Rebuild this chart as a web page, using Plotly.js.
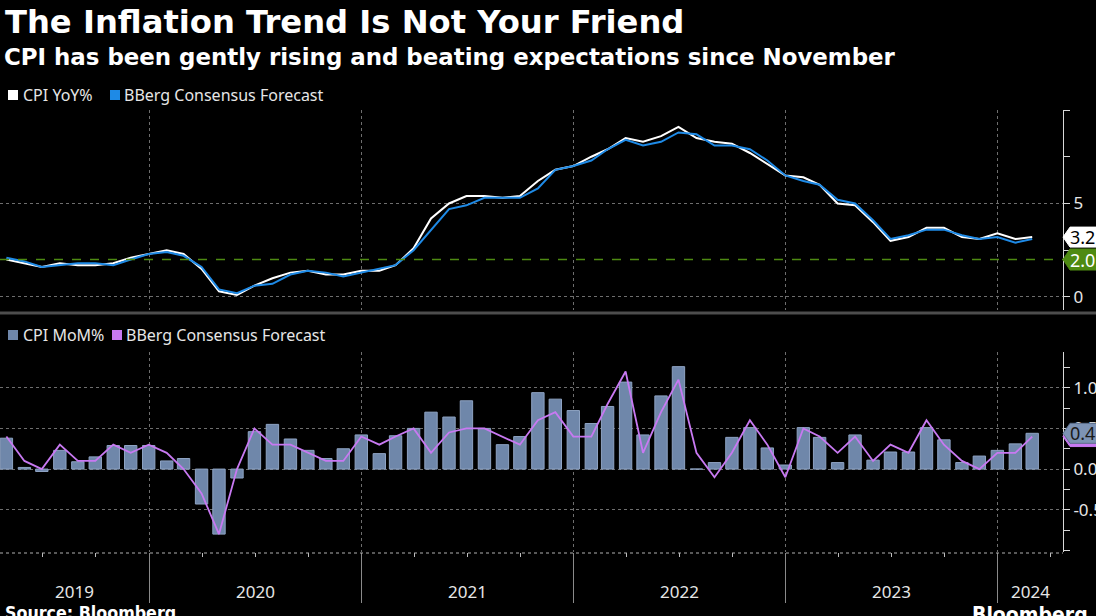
<!DOCTYPE html>
<html><head><meta charset="utf-8">
<script src="https://cdn.plot.ly/plotly-3.0.1.min.js"></script>
<style>html,body{margin:0;padding:0;background:#000;}#chart{width:1096px;height:616px;}</style>
</head><body><div id="chart"></div>
<script>
// ---------- DATA ----------
const months = [
 '2019-04-30','2019-05-31','2019-06-30','2019-07-31','2019-08-31','2019-09-30','2019-10-31','2019-11-30','2019-12-31',
 '2020-01-31','2020-02-29','2020-03-31','2020-04-30','2020-05-31','2020-06-30','2020-07-31','2020-08-31','2020-09-30','2020-10-31','2020-11-30','2020-12-31',
 '2021-01-31','2021-02-28','2021-03-31','2021-04-30','2021-05-31','2021-06-30','2021-07-31','2021-08-31','2021-09-30','2021-10-31','2021-11-30','2021-12-31',
 '2022-01-31','2022-02-28','2022-03-31','2022-04-30','2022-05-31','2022-06-30','2022-07-31','2022-08-31','2022-09-30','2022-10-31','2022-11-30','2022-12-31',
 '2023-01-31','2023-02-28','2023-03-31','2023-04-30','2023-05-31','2023-06-30','2023-07-31','2023-08-31','2023-09-30','2023-10-31','2023-11-30','2023-12-31',
 '2024-01-31','2024-02-29'
];
const cpiYoY = [
 2.0,1.8,1.6,1.8,1.7,1.7,1.8,2.1,2.3,
 2.5,2.3,1.5,0.3,0.1,0.6,1.0,1.3,1.4,1.2,1.2,1.4,
 1.4,1.7,2.6,4.2,5.0,5.4,5.4,5.3,5.4,6.2,6.8,7.0,
 7.5,7.9,8.5,8.3,8.6,9.1,8.5,8.3,8.2,7.7,7.1,6.5,
 6.4,6.0,5.0,4.9,4.0,3.0,3.2,3.7,3.7,3.2,3.1,3.4,
 3.1,3.2
];
const consensusYoY = [
 2.1,1.9,1.6,1.7,1.8,1.8,1.7,2.0,2.3,
 2.4,2.2,1.6,0.4,0.2,0.6,0.7,1.2,1.4,1.3,1.1,1.3,
 1.5,1.7,2.5,3.6,4.7,4.9,5.3,5.3,5.3,5.8,6.8,7.0,
 7.3,7.9,8.4,8.1,8.3,8.8,8.7,8.1,8.1,7.9,7.3,6.5,
 6.2,6.0,5.2,5.0,4.1,3.1,3.3,3.6,3.6,3.3,3.1,3.2,
 2.9,3.1
];
const cpiMoM = [
 0.38,0.02,-0.03,0.23,0.09,0.15,0.29,0.29,0.29,
 0.10,0.13,-0.43,-0.80,-0.11,0.46,0.55,0.37,0.23,0.13,0.25,0.42,
 0.19,0.41,0.50,0.70,0.64,0.84,0.50,0.30,0.40,0.94,0.86,0.72,
 0.56,0.77,1.07,0.42,0.90,1.26,0.00,0.08,0.39,0.51,0.26,0.05,
 0.51,0.39,0.08,0.42,0.11,0.21,0.21,0.51,0.36,0.08,0.16,0.23,
 0.31,0.44
];
const consensusMoM = [
 0.4,0.1,0.0,0.3,0.1,0.1,0.3,0.2,0.3,
 0.2,0.0,-0.3,-0.8,0.0,0.5,0.3,0.3,0.2,0.1,0.1,0.4,
 0.3,0.4,0.5,0.2,0.45,0.5,0.5,0.4,0.3,0.6,0.7,0.4,
 0.4,0.8,1.2,0.2,0.7,1.1,0.2,-0.1,0.2,0.6,0.3,-0.1,
 0.5,0.4,0.2,0.4,0.1,0.3,0.2,0.6,0.3,0.1,0.0,0.2,
 0.2,0.4
];
const inflationTarget = 2.0;
const yearStarts = ['2019-01-01','2020-01-01','2021-01-01','2022-01-01','2023-01-01','2024-01-01','2025-01-01'];
const yearLabels = ['2019','2020','2021','2022','2023','2024'];
const yoyTickVals = [0,5];
const yoyTickText = ['0','5'];
const momTickVals = [-0.5,0,0.5,1.0];
const momTickText = ['-0.5','0.0','0.5','1.0'];

// ---------- LAYOUT HELPERS ----------
const W = 1096, H = 616;
const px = x => x / W;
const py = y => 1 - y / H;
const AXIS_X = 1063;
const xRange = ['2019-04-19','2024-04-22'];
const topPx = [110, 310], botPx = [352, 552];
const yoyRange = [-0.7, 10];
const momRange = [-1.02, 1.44];
const yoyPerPx = (yoyRange[1]-yoyRange[0])/(topPx[1]-topPx[0]);
const momPerPx = (momRange[1]-momRange[0])/(botPx[1]-botPx[0]);

const WHITE='#ffffff', BLUE='#1e8ae6', PURPLE='#c879f2', BAR='#6f87aa', BARLINE='#8ea3c3', GREEN='#4e8a12', GRID='#6e6e6e';
const FONT='Noto Sans, Open Sans, sans-serif';
const BOLD='DejaVu Sans, sans-serif';
const BOLDC='DejaVu Sans Condensed, DejaVu Sans, sans-serif';

const traces = [
  {type:'bar', x:months, y:cpiMoM, xaxis:'x', yaxis:'y2', width:21.3*86400000,
   marker:{color:BAR, line:{color:BARLINE, width:1}}, hoverinfo:'skip'},
  {type:'scatter', mode:'lines', x:months, y:consensusMoM, xaxis:'x', yaxis:'y2',
   line:{color:PURPLE, width:1.8}, hoverinfo:'skip'},
  {type:'scatter', mode:'lines', x:months, y:cpiYoY, xaxis:'x', yaxis:'y',
   line:{color:WHITE, width:2}, hoverinfo:'skip'},
  {type:'scatter', mode:'lines', x:months, y:consensusYoY, xaxis:'x', yaxis:'y',
   line:{color:BLUE, width:2}, hoverinfo:'skip'}
];

// year label positions: centre of visible part of each year
const r0 = Date.parse(xRange[0]), r1 = Date.parse(xRange[1]);
const annotations = [];
yearLabels.forEach((lab, i) => {
  const a = Math.max(Date.parse(yearStarts[i]), r0);
  const b = Math.min(Date.parse(yearStarts[i+1]), r1);
  const mid = new Date((a+b)/2).toISOString().slice(0,10);
  annotations.push({xref:'x', yref:'paper', x:mid, y:py(591), xanchor:'center', yanchor:'middle',
    text:lab, showarrow:false, font:{family:FONT, size:17, color:'#e6e6e6'}});
});

const shapes = [
  // 2% target dashed line
  {type:'line', xref:'paper', yref:'y', x0:0, x1:px(AXIS_X), y0:inflationTarget, y1:inflationTarget,
   line:{color:GREEN, width:1.5, dash:'dash'}},
  // panel separator
  {type:'rect', xref:'paper', yref:'paper', x0:0, x1:1, y0:py(314.5), y1:py(311.5), fillcolor:'#4d4d4d', line:{width:0}},
  // dotted x-axis baseline
  {type:'line', xref:'paper', yref:'paper', x0:0, x1:px(AXIS_X), y0:py(553), y1:py(553), line:{color:'#b0b0b0', width:1, dash:'dot'}},
  // legend squares
  {type:'rect', xref:'paper', yref:'paper', x0:px(8), x1:px(18), y0:py(100), y1:py(90), fillcolor:WHITE, line:{width:0}},
  {type:'rect', xref:'paper', yref:'paper', x0:px(110), x1:px(120), y0:py(100), y1:py(90), fillcolor:BLUE, line:{width:0}},
  {type:'rect', xref:'paper', yref:'paper', x0:px(8), x1:px(18), y0:py(340), y1:py(330), fillcolor:BAR, line:{width:0}},
  {type:'rect', xref:'paper', yref:'paper', x0:px(112), x1:px(122), y0:py(340), y1:py(330), fillcolor:PURPLE, line:{width:0}}
];

function tag(yref, v, half, fill, border, txt, txtColor) {
  const path = `M ${px(AXIS_X)},${v} L ${px(AXIS_X+7)},${v+half} L ${px(1110)},${v+half} L ${px(1110)},${v-half} L ${px(AXIS_X+7)},${v-half} Z`;
  shapes.push({type:'path', xref:'paper', yref:yref, path:path, fillcolor:fill, line:{color:border, width:1}, layer:'above'});
  if (txt !== null) annotations.push({xref:'paper', yref:yref, x:px(AXIS_X+5), y:v, xanchor:'left', yanchor:'middle',
    text:txt, showarrow:false, font:{family:FONT, size:18, color:txtColor}});
}

tag('y', inflationTarget, 10.5*yoyPerPx, GREEN, GREEN, inflationTarget.toFixed(1), '#ffffff');
tag('y', cpiYoY[cpiYoY.length-1], 10*yoyPerPx, '#ffffff', '#ffffff', cpiYoY[cpiYoY.length-1].toFixed(1), '#000000');
tag('y2', consensusMoM[consensusMoM.length-1], 10*momPerPx, PURPLE, PURPLE, null, null);
tag('y2', cpiMoM[cpiMoM.length-1], 10*momPerPx, '#7d93b5', '#5c6f8c', cpiMoM[cpiMoM.length-1].toFixed(1), '#1a1a1a');

annotations.push(
  {xref:'paper', yref:'paper', x:px(3), y:py(22), xanchor:'left', yanchor:'middle', showarrow:false,
   text:'<b>The Inflation Trend Is Not Your Friend</b>', font:{family:BOLD, size:32.2, color:'#ffffff'}},
  {xref:'paper', yref:'paper', x:px(2), y:py(57), xanchor:'left', yanchor:'middle', showarrow:false,
   text:'<b>CPI has been gently rising and beating expectations since November</b>', font:{family:BOLD, size:22.9, color:'#ffffff'}},
  {xref:'paper', yref:'paper', x:px(21), y:py(95), xanchor:'left', yanchor:'middle', showarrow:false,
   text:'CPI YoY%', font:{family:FONT, size:16, color:'#e6e6e6'}},
  {xref:'paper', yref:'paper', x:px(122), y:py(95), xanchor:'left', yanchor:'middle', showarrow:false,
   text:'BBerg Consensus Forecast', font:{family:FONT, size:16, color:'#e6e6e6'}},
  {xref:'paper', yref:'paper', x:px(21), y:py(335), xanchor:'left', yanchor:'middle', showarrow:false,
   text:'CPI MoM%', font:{family:FONT, size:16, color:'#e6e6e6'}},
  {xref:'paper', yref:'paper', x:px(124), y:py(335), xanchor:'left', yanchor:'middle', showarrow:false,
   text:'BBerg Consensus Forecast', font:{family:FONT, size:16, color:'#e6e6e6'}},
  {xref:'paper', yref:'paper', x:px(3), y:py(601), xanchor:'left', yanchor:'top', showarrow:false,
   text:'<b>Source: Bloomberg</b>', font:{family:BOLDC, size:17.7, color:'#ffffff'}},
  {xref:'paper', yref:'paper', x:px(970), y:py(601), xanchor:'left', yanchor:'top', showarrow:false,
   text:'<b>Bloomberg</b>', font:{family:BOLDC, size:21, color:'#ffffff'}}
);

const yAxisCommon = {
  side:'right', anchor:'x', showline:true, linecolor:'#d8d8d8', linewidth:1,
  ticks:'outside', ticklen:6, tickcolor:'#d8d8d8', tickwidth:1,
  showgrid:true, gridcolor:GRID, griddash:'dot', gridwidth:1, zeroline:false,
  tickfont:{family:FONT, size:17, color:'#e6e6e6'}, fixedrange:true
};

const layout = {
  width:W, height:H, margin:{l:0,r:0,t:0,b:0},
  paper_bgcolor:'#000', plot_bgcolor:'#000', showlegend:false, barmode:'overlay',
  xaxis:{type:'date', domain:[0, px(AXIS_X)], range:xRange, anchor:'y2',
    tickmode:'array', tickvals:yearStarts, showticklabels:false,
    ticks:'outside', ticklen:50, tickcolor:'#8a8a8a', tickwidth:1,
    showgrid:true, gridcolor:GRID, griddash:'dot', gridwidth:1,
    minor:{tickmode:'linear', tick0:'2019-01-01', dtick:'M3', ticks:'outside', ticklen:4, tickcolor:'#bdbdbd', showgrid:false},
    showline:false, zeroline:false, fixedrange:true},
  yaxis:Object.assign({}, yAxisCommon, {domain:[py(topPx[1]), py(topPx[0])], range:yoyRange,
    tickmode:'array', tickvals:yoyTickVals, ticktext:yoyTickText,
    minor:{tickmode:'linear', tick0:0, dtick:2.5, ticks:'outside', ticklen:6, tickcolor:'#d8d8d8', showgrid:false}}),
  yaxis2:Object.assign({}, yAxisCommon, {domain:[py(botPx[1]), py(botPx[0])], range:momRange,
    tickmode:'array', tickvals:momTickVals, ticktext:momTickText,
    minor:{tickmode:'linear', tick0:0, dtick:0.25, ticks:'outside', ticklen:6, tickcolor:'#d8d8d8', showgrid:false}}),
  shapes:shapes, annotations:annotations
};

Plotly.newPlot('chart', traces, layout, {displayModeBar:false, staticPlot:true});
</script>
</body></html>
